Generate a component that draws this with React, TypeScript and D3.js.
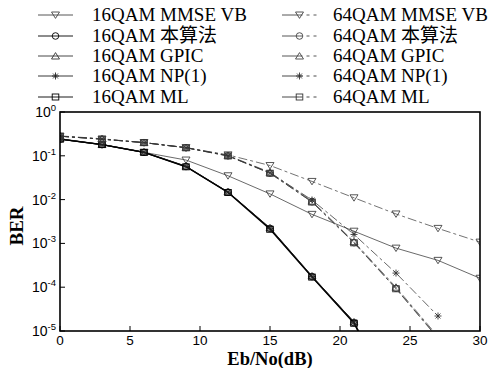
import React from "react";
import * as d3 from "d3";

const snr = [0, 3, 6, 9, 12, 15, 18, 21, 24, 27, 30];

const q16MmseVb = [0.24, 0.18, 0.12, 0.08, 0.035, 0.0135, 0.0046, 0.0019, 7.8e-4, 4.1e-4, 1.6e-4];
const q16Proposed = [0.24, 0.18, 0.12, 0.057, 0.0148, 0.0022, 1.75e-4, 1.55e-5, 2e-7];
const q16Gpic = [0.245, 0.182, 0.122, 0.058, 0.015, 0.00225, 1.8e-4, 1.6e-5, 2.2e-7];
const q16Np1 = [0.24, 0.18, 0.12, 0.057, 0.0148, 0.0022, 1.75e-4, 1.6e-5, 2.1e-7];
const q16Ml = [0.24, 0.18, 0.12, 0.056, 0.0145, 0.0021, 1.7e-4, 1.5e-5, 2e-7];

const q64MmseVb = [0.28, 0.24, 0.2, 0.153, 0.105, 0.06, 0.026, 0.011, 0.0047, 0.0022, 0.00107];
const q64Proposed = [0.28, 0.24, 0.2, 0.153, 0.1, 0.04, 0.0089, 0.00104, 9.4e-5, 7e-6];
const q64Gpic = [0.285, 0.245, 0.2, 0.155, 0.102, 0.042, 0.0092, 0.0011, 1.0e-4, 7.5e-6];
const q64Np1 = [0.28, 0.24, 0.2, 0.153, 0.1, 0.041, 0.0098, 0.0016, 2.1e-4, 2.2e-5];
const q64Ml = [0.28, 0.24, 0.2, 0.152, 0.099, 0.04, 0.0088, 0.00103, 9.2e-5, 6.8e-6];

const xTicks = [0, 5, 10, 15, 20, 25, 30];
const yExps = [0, -1, -2, -3, -4, -5];

type Marker = "tri-down" | "circle" | "tri-up" | "star" | "square";

const series = [
  { name: "16QAM MMSE VB", values: q16MmseVb, marker: "tri-down" as Marker, dashed: false, width: 0.8, color: "#444" },
  { name: "16QAM 本算法", values: q16Proposed, marker: "circle" as Marker, dashed: false, width: 1.2, color: "#000" },
  { name: "16QAM GPIC", values: q16Gpic, marker: "tri-up" as Marker, dashed: false, width: 1.0, color: "#333" },
  { name: "16QAM NP(1)", values: q16Np1, marker: "star" as Marker, dashed: false, width: 1.0, color: "#222" },
  { name: "16QAM ML", values: q16Ml, marker: "square" as Marker, dashed: false, width: 1.2, color: "#000" },
  { name: "64QAM MMSE VB", values: q64MmseVb, marker: "tri-down" as Marker, dashed: true, width: 0.75, color: "#444" },
  { name: "64QAM 本算法", values: q64Proposed, marker: "circle" as Marker, dashed: true, width: 0.7, color: "#444" },
  { name: "64QAM GPIC", values: q64Gpic, marker: "tri-up" as Marker, dashed: true, width: 0.7, color: "#444" },
  { name: "64QAM NP(1)", values: q64Np1, marker: "star" as Marker, dashed: true, width: 0.75, color: "#333" },
  { name: "64QAM ML", values: q64Ml, marker: "square" as Marker, dashed: true, width: 0.75, color: "#333" },
];

const X0 = 60, X1 = 480, Y0 = 112, Y1 = 331;
const DASH = "9,3,3,3";

function MarkerShape({ type, x, y, color }: { type: Marker; x: number; y: number; color: string }) {
  const s = 4;
  const common = { fill: "none", stroke: color, strokeWidth: 0.9 };
  if (type === "tri-down")
    return <path d={`M${x - s},${y - s * 0.75}L${x + s},${y - s * 0.75}L${x},${y + s * 0.85}Z`} {...common} />;
  if (type === "tri-up")
    return <path d={`M${x - s},${y + s * 0.75}L${x + s},${y + s * 0.75}L${x},${y - s * 0.85}Z`} {...common} />;
  if (type === "circle") return <circle cx={x} cy={y} r={3.3} {...common} />;
  if (type === "square") return <rect x={x - 3.3} y={y - 3} width={6.6} height={6} {...common} />;
  const r = 3.5;
  return (
    <path
      d={`M${x - r},${y}L${x + r},${y}M${x},${y - r}L${x},${y + r}M${x - r * 0.7},${y - r * 0.7}L${x + r * 0.7},${y + r * 0.7}M${x - r * 0.7},${y + r * 0.7}L${x + r * 0.7},${y - r * 0.7}`}
      stroke={color}
      strokeWidth={0.9}
      fill="none"
    />
  );
}

export default function App() {
  const x = d3.scaleLinear().domain([0, 30]).range([X0, X1]);
  const y = d3.scaleLog().domain([1e-5, 1]).range([Y1, Y0]);
  const line = d3
    .line<number>()
    .x((_, i) => x(snr[i]))
    .y((v) => y(v));

  const legendRows = [15, 36, 56, 76, 97];

  return (
    <svg width={492} height={368} style={{ position: "absolute", left: 0, top: 0, background: "#fff" }}>
      <defs>
        <clipPath id="plotclip">
          <rect x={X0} y={Y0} width={X1 - X0} height={Y1 - Y0} />
        </clipPath>
      </defs>
      <rect x={0} y={0} width={492} height={368} fill="#fff" />

      {/* legend */}
      {series.map((s, i) => {
        const col = i < 5 ? 0 : 1;
        const row = legendRows[i % 5];
        const lx0 = col === 0 ? 38 : 282;
        const lx1 = col === 0 ? 73 : 317;
        const tx = col === 0 ? 92 : 333;
        const mx = (lx0 + lx1) / 2;
        return (
          <g key={s.name}>
            {s.dashed ? (
              <>
                <line x1={lx0} x2={mx} y1={row} y2={row} stroke={s.color} strokeWidth={0.9} />
                <line x1={mx} x2={lx1} y1={row} y2={row} stroke={s.color} strokeWidth={0.9} strokeDasharray="3,4" />
              </>
            ) : (
              <line x1={lx0} x2={lx1} y1={row} y2={row} stroke={s.color} strokeWidth={0.9} />
            )}
            <MarkerShape type={s.marker} x={mx} y={row} color={s.color} />
            <text
              x={tx}
              y={row + 6}
              fontFamily="'Liberation Serif', 'Noto Sans CJK SC', serif"
              fontSize={19}
              fill="#000"
            >
              {s.name}
            </text>
          </g>
        );
      })}

      {/* series */}
      <g clipPath="url(#plotclip)">
        {series.map((s) => (
          <path
            key={s.name}
            d={line(s.values) || ""}
            fill="none"
            stroke={s.color}
            strokeWidth={s.width}
            strokeDasharray={s.dashed ? DASH : undefined}
          />
        ))}
        {series.map((s) =>
          s.values.map((v, i) =>
            v >= 1e-5 ? <MarkerShape key={s.name + i} type={s.marker} x={x(snr[i])} y={y(v)} color={s.color} /> : null
          )
        )}
      </g>

      {/* frame */}
      <rect x={X0} y={Y0} width={X1 - X0} height={Y1 - Y0} fill="none" stroke="#000" strokeWidth={1.6} />

      {/* x ticks */}
      {xTicks.map((t) => (
        <g key={"x" + t}>
          <line x1={x(t)} x2={x(t)} y1={Y1} y2={Y1 - 5} stroke="#000" strokeWidth={1} />
          <text
            x={x(t)}
            y={Y1 + 14}
            textAnchor="middle"
            fontFamily="'Liberation Sans', Arial, sans-serif"
            fontSize={13.5}
          >
            {t}
          </text>
        </g>
      ))}

      {/* y ticks */}
      {yExps.map((e) => {
        const yy = y(Math.pow(10, e));
        return (
          <g key={"y" + e}>
            <line x1={X0} x2={X0 + 5} y1={yy} y2={yy} stroke="#000" strokeWidth={1} />
            <text
              x={X0 - 4}
              y={yy + 5}
              textAnchor="end"
              fontFamily="'Liberation Sans', Arial, sans-serif"
              fontSize={14}
            >
              10
              <tspan dy={-6} fontSize={9.5}>
                {e === 0 ? "0" : "-" + Math.abs(e)}
              </tspan>
            </text>
          </g>
        );
      })}

      {/* axis labels */}
      <text
        x={270}
        y={364.5}
        textAnchor="middle"
        fontFamily="'Liberation Serif', serif"
        fontWeight="bold"
        fontSize={18.5}
      >
        Eb/No(dB)
      </text>
      <text
        transform="translate(23,226) rotate(-90)"
        textAnchor="middle"
        fontFamily="'Liberation Serif', serif"
        fontWeight="bold"
        fontSize={19}
      >
        BER
      </text>
    </svg>
  );
}
